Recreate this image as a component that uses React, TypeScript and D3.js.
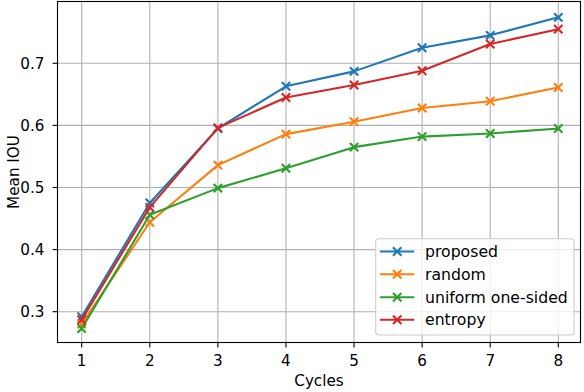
import React from "react";
import * as d3 from "d3";

const cycles = [1, 2, 3, 4, 5, 6, 7, 8];
const seriesNames = ["proposed", "random", "uniform one-sided", "entropy"];
const seriesColors = ["#1f77b4", "#ff7f0e", "#2ca02c", "#d62728"];
const proposed = [0.292, 0.475, 0.595, 0.663, 0.687, 0.725, 0.745, 0.774];
const random = [0.28, 0.444, 0.536, 0.586, 0.606, 0.628, 0.639, 0.661];
const uniformOneSided = [0.273, 0.456, 0.499, 0.531, 0.565, 0.582, 0.587, 0.595];
const entropy = [0.287, 0.468, 0.596, 0.645, 0.665, 0.688, 0.731, 0.755];
const xTicks = [1, 2, 3, 4, 5, 6, 7, 8];
const yTicks = [0.3, 0.4, 0.5, 0.6, 0.7];

const W = 584;
const H = 392;
const L = 57.5, R = 580.5, T = 1.5, B = 342.5;
const FONT = "DejaVu Sans, sans-serif";
const FS = 15.2;
const LFS = 15.7;

export default function App() {
  const x = d3.scaleLinear().domain([1, 8]).range([81.7, 558.3]);
  const y = d3.scaleLinear().domain([0.3, 0.7]).range([311.7, 63.3]);
  const all = [proposed, random, uniformOneSided, entropy];
  const line = d3
    .line<number>()
    .x((_, i) => x(cycles[i]))
    .y((d) => y(d));
  const ms = 4.2;
  const marker = (cx: number, cy: number, color: string, key: string) => (
    <path
      key={key}
      d={`M${cx - ms},${cy - ms}L${cx + ms},${cy + ms}M${cx - ms},${cy + ms}L${cx + ms},${cy - ms}`}
      stroke={color}
      strokeWidth={2.1}
      fill="none"
    />
  );
  const legX = 375.7, legY = 238.7, legW = 198.3, legH = 96.3;
  const rowY = [251.5, 274.2, 297.2, 319.8];
  return (
    <svg
      width={W}
      height={H}
      style={{ position: "absolute", left: 0, top: 0 }}
      fontFamily={FONT}
    >
      <rect x={0} y={0} width={W} height={H} fill="white" />
      <defs>
        <clipPath id="plot">
          <rect x={L} y={T} width={R - L} height={B - T} />
        </clipPath>
      </defs>
      {xTicks.map((t) => (
        <line key={"gx" + t} x1={x(t)} x2={x(t)} y1={T} y2={B} stroke="#b0b0b0" strokeWidth={1.1} />
      ))}
      {yTicks.map((t) => (
        <line key={"gy" + t} x1={L} x2={R} y1={y(t)} y2={y(t)} stroke="#b0b0b0" strokeWidth={1.1} />
      ))}
      <g clipPath="url(#plot)">
        {all.map((s, si) => (
          <g key={"s" + si}>
            <path d={line(s) || ""} stroke={seriesColors[si]} strokeWidth={2.1} fill="none" strokeLinejoin="round" strokeLinecap="square" />
            {s.map((v, i) => marker(x(cycles[i]), y(v), seriesColors[si], `m${si}-${i}`))}
          </g>
        ))}
      </g>
      <rect x={L} y={T} width={R - L} height={B - T} fill="none" stroke="black" strokeWidth={1.1} />
      {xTicks.map((t) => (
        <g key={"tx" + t}>
          <line x1={x(t)} x2={x(t)} y1={B} y2={B + 4.9} stroke="black" strokeWidth={1.1} />
          <text x={x(t)} y={365.7} fontSize={FS} textAnchor="middle" fill="black">
            {t}
          </text>
        </g>
      ))}
      {yTicks.map((t) => (
        <g key={"ty" + t}>
          <line x1={L - 4.9} x2={L} y1={y(t)} y2={y(t)} stroke="black" strokeWidth={1.1} />
          <text x={44.4} y={y(t)} dy="0.36em" fontSize={FS} textAnchor="end" fill="black">
            {d3.format(".1f")(t)}
          </text>
        </g>
      ))}
      <text x={(L + R) / 2} y={386.3} fontSize={FS} textAnchor="middle" fill="black">
        Cycles
      </text>
      <text
        transform={`translate(18.5, ${(T + B) / 2}) rotate(-90)`}
        fontSize={FS}
        textAnchor="middle"
        fill="black"
      >
        Mean IOU
      </text>
      <rect x={legX} y={legY} width={legW} height={legH} rx={3} ry={3} fill="white" fillOpacity={0.8} stroke="#cccccc" strokeWidth={1.1} />
      {seriesNames.map((n, i) => (
        <g key={"l" + i}>
          <line x1={380} x2={414.3} y1={rowY[i]} y2={rowY[i]} stroke={seriesColors[i]} strokeWidth={2.1} />
          {marker(397.2, rowY[i], seriesColors[i], "lm" + i)}
          <text x={425} y={rowY[i]} dy="0.36em" fontSize={LFS} fill="black">
            {n}
          </text>
        </g>
      ))}
    </svg>
  );
}
